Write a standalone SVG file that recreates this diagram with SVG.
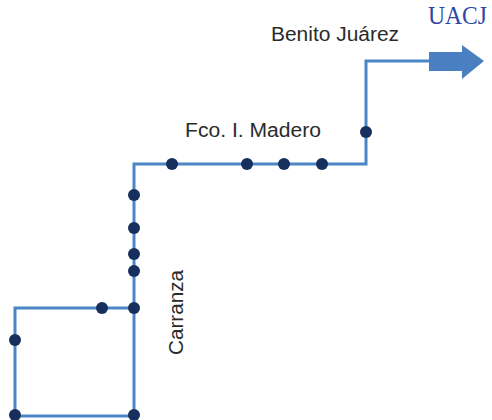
<svg xmlns="http://www.w3.org/2000/svg" width="492" height="420" viewBox="0 0 492 420">
<style>
.route{fill:none;stroke:#4a86c6;stroke-width:3;stroke-linejoin:miter}
.stop{fill:#172f5c}
.lbl{font-family:"Liberation Sans",Arial,sans-serif;font-size:20px;fill:#2b2b2b}
.logo{font-family:"Liberation Serif","Times New Roman",serif;font-size:26px;fill:#2d47a0}
</style>
<rect width="492" height="420" fill="#ffffff"/>
<g id="connectors">
<polyline class="route" points="134,416 134,164 366,164 366,61 430,61"/>
<polyline class="route" points="134,308 15,308 15,416 134,416"/>
<polygon id="arrow" fill="#4a80c2" points="429,52 462,52 462,45 484,61 462,79 462,71 429,71"/>
</g>
<g id="stops">
<circle class="stop" cx="172" cy="164" r="6"/>
<circle class="stop" cx="247" cy="164" r="6"/>
<circle class="stop" cx="284" cy="164" r="6"/>
<circle class="stop" cx="322" cy="164" r="6"/>
<circle class="stop" cx="366" cy="132" r="6"/>
<circle class="stop" cx="134" cy="195" r="6"/>
<circle class="stop" cx="134" cy="228" r="6"/>
<circle class="stop" cx="134" cy="254" r="6"/>
<circle class="stop" cx="134" cy="271" r="6"/>
<circle class="stop" cx="134" cy="308" r="6"/>
<circle class="stop" cx="102" cy="308" r="6"/>
<circle class="stop" cx="15" cy="340" r="6"/>
<circle class="stop" cx="15" cy="415" r="6"/>
<circle class="stop" cx="134" cy="415" r="6"/>
</g>
<g id="labels">
<text class="lbl" x="271" y="41" textLength="128" lengthAdjust="spacingAndGlyphs">Benito Juárez</text>
<text class="lbl" x="185" y="136.5" textLength="136" lengthAdjust="spacingAndGlyphs">Fco. I. Madero</text>
<text class="lbl" transform="translate(183,355) rotate(-90)" x="0" y="0" textLength="85" lengthAdjust="spacingAndGlyphs">Carranza</text>
</g>
<g id="logo">
<text class="logo" x="428" y="24" textLength="59" lengthAdjust="spacingAndGlyphs">UACJ</text>
</g>
</svg>
